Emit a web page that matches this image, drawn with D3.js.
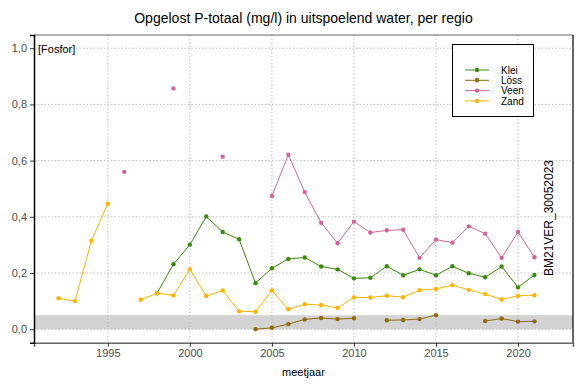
<!DOCTYPE html>
<html lang="nl">
<head>
<meta charset="UTF-8">
<title>Opgelost P-totaal</title>
<script src="https://cdn.jsdelivr.net/npm/d3@7"></script>
<style>
  body { margin: 0; background: white; }
  text { font-family: "Liberation Sans", Arial, sans-serif; }
</style>
</head>
<body>
<script>
// jaren en waarden per regio (null = geen meting)
var years = d3.range(1992, 2022);
var klei = [null,null,null,null,null,null,0.128,0.231,0.301,0.401,0.346,0.320,0.164,0.217,0.250,0.255,0.223,0.213,0.181,0.183,0.224,0.192,0.213,0.192,0.224,0.199,0.185,0.223,0.149,0.193];
var loss = [null,null,null,null,null,null,null,null,null,null,null,null,0.000,0.005,0.018,0.035,0.040,0.036,0.039,null,0.032,0.033,0.036,0.050,null,null,0.029,0.038,0.027,0.028];
var veen = [null,null,null,null,0.560,null,null,0.857,null,null,0.614,null,null,0.474,0.621,0.488,0.379,0.306,0.383,0.344,0.352,0.354,0.254,0.319,0.308,0.366,0.340,0.254,0.346,0.256];
var zand = [0.110,0.100,0.315,0.447,null,0.105,0.128,0.120,0.213,0.118,0.138,0.064,0.062,0.138,0.071,0.089,0.086,0.076,0.113,0.113,0.119,0.114,0.139,0.143,0.157,0.140,0.125,0.106,0.119,0.121];
var seriesNames = ["Klei", "Löss", "Veen", "Zand"];
var seriesColors = ["#3b8a0c", "#8f6b0a", "#d2649c", "#ffb300"];
var xTicks = [1995, 2000, 2005, 2010, 2015, 2020];
var yTicks = [0, 0.2, 0.4, 0.6, 0.8, 1.0];

var width = 584, height = 389;
var svg = d3.select("body").append("svg")
    .attr("width", width).attr("height", height);

var x = d3.scaleLinear().domain([1990.5, 2023.35]).range([34, 573]);
var y = d3.scaleLinear().domain([-0.048, 1.047]).range([342.7, 35]);

// grijze band 0 - 0,05
svg.append("rect")
    .attr("x", x.range()[0]).attr("width", x.range()[1] - x.range()[0])
    .attr("y", y(0.05)).attr("height", y(0) - y(0.05))
    .attr("fill", "#d3d3d3");

// rasterlijnen
svg.append("g").selectAll("line").data(xTicks).enter().append("line")
    .attr("x1", d => x(d)).attr("x2", d => x(d))
    .attr("y1", 35).attr("y2", 342.7)
    .attr("stroke", "#b0b0b0").attr("stroke-width", 0.8).attr("stroke-dasharray", "1.5,2");
svg.append("g").selectAll("line").data(yTicks).enter().append("line")
    .attr("x1", 34).attr("x2", 573)
    .attr("y1", d => y(d)).attr("y2", d => y(d))
    .attr("stroke", "#b0b0b0").attr("stroke-width", 0.8).attr("stroke-dasharray", "1.5,2");

// paneelrand
svg.append("line").attr("x1", 34).attr("x2", 573).attr("y1", 35).attr("y2", 35)
    .attr("stroke", "#666").attr("stroke-width", 1.2);
svg.append("line").attr("x1", 573).attr("x2", 573).attr("y1", 35).attr("y2", 343)
    .attr("stroke", "#000").attr("stroke-width", 1.2);

// assen
var xAxis = svg.append("g").attr("transform", "translate(0,342.7)")
    .call(d3.axisBottom(x).tickValues(xTicks).tickFormat(d3.format("d")).tickSize(4).tickPadding(3));
xAxis.select(".domain").attr("stroke", "#666").attr("stroke-width", 1.5);
xAxis.selectAll(".tick line").attr("stroke", "#333").attr("stroke-width", 1);
xAxis.selectAll("text").attr("fill", "#4d4d4d").style("font-size", "11px")
    .style("font-family", "Liberation Sans, Arial, sans-serif");

var yAxis = svg.append("g").attr("transform", "translate(34,0)")
    .call(d3.axisLeft(y).tickValues(yTicks).tickFormat(d => d3.format(".1f")(d).replace(".", ",")).tickSize(4).tickPadding(3));
yAxis.select(".domain").attr("stroke", "#000").attr("stroke-width", 1.5);
yAxis.selectAll(".tick line").attr("stroke", "#333").attr("stroke-width", 1);
yAxis.selectAll("text").attr("fill", "#4d4d4d").style("font-size", "11px")
    .style("font-family", "Liberation Sans, Arial, sans-serif");

// lijnen en punten
var allSeries = [klei, loss, veen, zand];
var line = d3.line()
    .defined(d => d.v !== null)
    .x(d => x(d.year)).y(d => y(d.v));

allSeries.forEach(function (vals, i) {
    var pts = years.map((yr, j) => ({ year: yr, v: vals[j] }));
    svg.append("path").datum(pts)
        .attr("d", line)
        .attr("fill", "none")
        .attr("stroke", seriesColors[i])
        .attr("stroke-width", 1);
    svg.append("g").selectAll("circle")
        .data(pts.filter(d => d.v !== null))
        .enter().append("circle")
        .attr("cx", d => x(d.year)).attr("cy", d => y(d.v))
        .attr("r", 2.2)
        .attr("fill", seriesColors[i]);
});

// titel en labels
svg.append("text").attr("x", 303.5).attr("y", 23).attr("text-anchor", "middle")
    .style("font-size", "14px").text("Opgelost P-totaal (mg/l) in uitspoelend water, per regio");
svg.append("text").attr("x", 303.5).attr("y", 376).attr("text-anchor", "middle")
    .style("font-size", "11px").text("meetjaar");
svg.append("text").attr("x", 38).attr("y", 53)
    .style("font-size", "11px").text("[Fosfor]");
svg.append("text").attr("transform", "translate(553,218) rotate(-90)")
    .attr("text-anchor", "middle")
    .style("font-size", "12px").text("BM21VER_30052023");

// legenda
var legend = svg.append("g");
legend.append("rect").attr("x", 452.5).attr("y", 44.5).attr("width", 81).attr("height", 72)
    .attr("fill", "white").attr("stroke", "#000").attr("stroke-width", 1);
seriesNames.forEach(function (name, i) {
    var ly = 70 + i * 10.3;
    legend.append("line").attr("x1", 465).attr("x2", 489).attr("y1", ly).attr("y2", ly)
        .attr("stroke", seriesColors[i]).attr("stroke-width", 1);
    legend.append("circle").attr("cx", 477).attr("cy", ly).attr("r", 2.2).attr("fill", seriesColors[i]);
    legend.append("text").attr("x", 501).attr("y", ly + 3.6)
        .style("font-size", "10px").text(name);
});
</script>
</body>
</html>
